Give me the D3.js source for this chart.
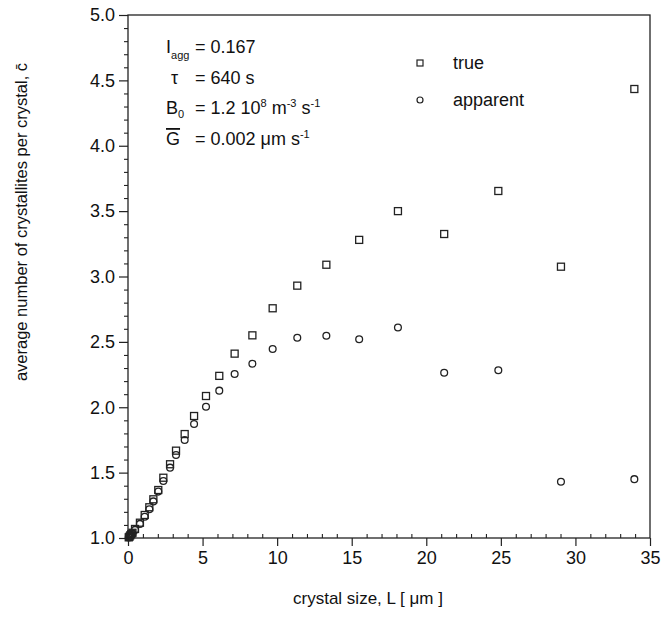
<!DOCTYPE html>
<html><head><meta charset="utf-8">
<script src="https://cdn.jsdelivr.net/npm/d3@7"></script>
<style>
body{margin:0;background:#fff;}
text{font-family:"Liberation Sans",Arial,sans-serif;fill:#111;}
</style></head>
<body><svg id="c" width="663" height="619"></svg>
<script>
const crystalSize = [0.05,0.1,0.15,0.22,0.3,0.47,0.80,1.12,1.43,1.70,2.03,2.37,2.82,3.22,3.80,4.43,5.23,6.12,7.15,8.34,9.70,11.35,13.30,15.50,18.10,21.20,24.83,29.03,33.95];
const trueValues = [1.005,1.01,1.02,1.03,1.04,1.069,1.117,1.176,1.235,1.296,1.367,1.461,1.564,1.668,1.795,1.933,2.086,2.24,2.41,2.55,2.757,2.93,3.09,3.28,3.50,3.325,3.654,3.075,4.434];
const apparentValues = [1.004,1.008,1.015,1.025,1.035,1.062,1.108,1.162,1.22,1.28,1.355,1.436,1.538,1.635,1.75,1.872,2.004,2.127,2.254,2.333,2.445,2.532,2.547,2.52,2.61,2.264,2.283,1.43,1.45];
const xTicks = [0,5,10,15,20,25,30,35];
const yTicks = [1.0,1.5,2.0,2.5,3.0,3.5,4.0,4.5,5.0];
const seriesNames = ["true","apparent"];

const svg = d3.select("#c");
const m = {l:128, r:650, t:15, b:538};
const x = d3.scaleLinear().domain([0,35]).range([m.l,m.r]);
const y = d3.scaleLinear().domain([1,5]).range([m.b,m.t]);
const ink = "#222";
const tickFont = 18;

// frame
svg.append("rect").attr("x",m.l).attr("y",m.t).attr("width",m.r-m.l).attr("height",m.b-m.t)
  .attr("fill","none").attr("stroke",ink).attr("stroke-width",1.3);

// x axis: minor inward, major outward
const xMinor = d3.range(0,35.01,1).filter(v=>v%5!==0);
svg.append("g").attr("transform",`translate(0,${m.b})`)
  .call(d3.axisTop(x).tickValues(xMinor).tickSize(4).tickFormat(""))
  .call(g=>{g.select(".domain").remove(); g.selectAll("line").attr("stroke",ink).attr("stroke-width",1.1);});
svg.append("g").attr("transform",`translate(0,${m.b})`)
  .call(d3.axisBottom(x).tickValues(xTicks).tickSize(8).tickPadding(5).tickFormat(d3.format("d")))
  .call(g=>{g.select(".domain").remove(); g.selectAll("line").attr("stroke",ink).attr("stroke-width",1.2);
    g.selectAll("text").attr("font-size",tickFont).attr("fill","#111").style("font-family","Liberation Sans, Arial, sans-serif");});

// y axis
const yMinor = d3.range(1,5.001,0.1).filter(v=>Math.abs(v*2-Math.round(v*2))>1e-6);
svg.append("g").attr("transform",`translate(${m.l},0)`)
  .call(d3.axisLeft(y).tickValues(yMinor).tickSize(4).tickFormat(""))
  .call(g=>{g.select(".domain").remove(); g.selectAll("line").attr("stroke",ink).attr("stroke-width",1.1);});
svg.append("g").attr("transform",`translate(${m.l},0)`)
  .call(d3.axisLeft(y).tickValues(yTicks).tickSize(9).tickPadding(4).tickFormat(d3.format(".1f")))
  .call(g=>{g.select(".domain").remove(); g.selectAll("line").attr("stroke",ink).attr("stroke-width",1.2);
    g.selectAll("text").attr("font-size",tickFont).attr("fill","#111").style("font-family","Liberation Sans, Arial, sans-serif");});

// markers
const sq = 7, cr = 3.4;
svg.append("g").selectAll("rect").data(crystalSize.map((L,i)=>[L,trueValues[i]])).join("rect")
  .attr("x",d=>x(d[0])-sq/2).attr("y",d=>y(d[1])-sq/2).attr("width",sq).attr("height",sq)
  .attr("fill","none").attr("stroke",ink).attr("stroke-width",1.3);
svg.append("g").selectAll("circle").data(crystalSize.map((L,i)=>[L,apparentValues[i]])).join("circle")
  .attr("cx",d=>x(d[0])).attr("cy",d=>y(d[1])).attr("r",cr)
  .attr("fill","none").attr("stroke",ink).attr("stroke-width",1.3);

// legend
const lg = svg.append("g");
lg.append("rect").attr("x",420-3).attr("y",63-3).attr("width",6).attr("height",6).attr("fill","none").attr("stroke",ink).attr("stroke-width",1.2);
lg.append("circle").attr("cx",420).attr("cy",100).attr("r",3).attr("fill","none").attr("stroke",ink).attr("stroke-width",1.2);
lg.append("text").attr("x",453).attr("y",69).attr("font-size",18).text(seriesNames[0]);
lg.append("text").attr("x",453).attr("y",106).attr("font-size",18).text(seriesNames[1]);

// annotation
const fs = 18, sfs = 11;
const a = svg.append("g").attr("font-size",fs);
let t = a.append("text").attr("x",166).attr("y",53);
t.append("tspan").text("I");
t.append("tspan").attr("font-size",sfs).attr("dy",6).text("agg");
a.append("text").attr("x",195).attr("y",53).text("= 0.167");

a.append("text").attr("x",171).attr("y",84).text("τ");
a.append("text").attr("x",195).attr("y",84).text("= 640 s");

t = a.append("text").attr("x",166).attr("y",114);
t.append("tspan").text("B");
t.append("tspan").attr("font-size",sfs).attr("dy",4).text("0");
t = a.append("text").attr("x",195).attr("y",114);
t.append("tspan").text("= 1.2 10");
t.append("tspan").attr("font-size",sfs).attr("dy",-7).text("8");
t.append("tspan").attr("dy",7).text(" m");
t.append("tspan").attr("font-size",sfs).attr("dy",-7).text("-3");
t.append("tspan").attr("dy",7).text(" s");
t.append("tspan").attr("font-size",sfs).attr("dy",-7).text("-1");

a.append("text").attr("x",166).attr("y",145).style("text-decoration","overline").text("G");
t = a.append("text").attr("x",195).attr("y",145);
t.append("tspan").text("= 0.002 μm s");
t.append("tspan").attr("font-size",sfs).attr("dy",-7).text("-1");

// axis titles
svg.append("text").attr("x",368).attr("y",604).attr("text-anchor","middle").attr("font-size",17)
  .text("crystal size, L  [ μm ]");
svg.append("text").attr("transform","translate(27,222) rotate(-90)").attr("text-anchor","middle").attr("font-size",16.5)
  .text("average number of crystallites per crystal, c\u0304");
</script></body></html>
